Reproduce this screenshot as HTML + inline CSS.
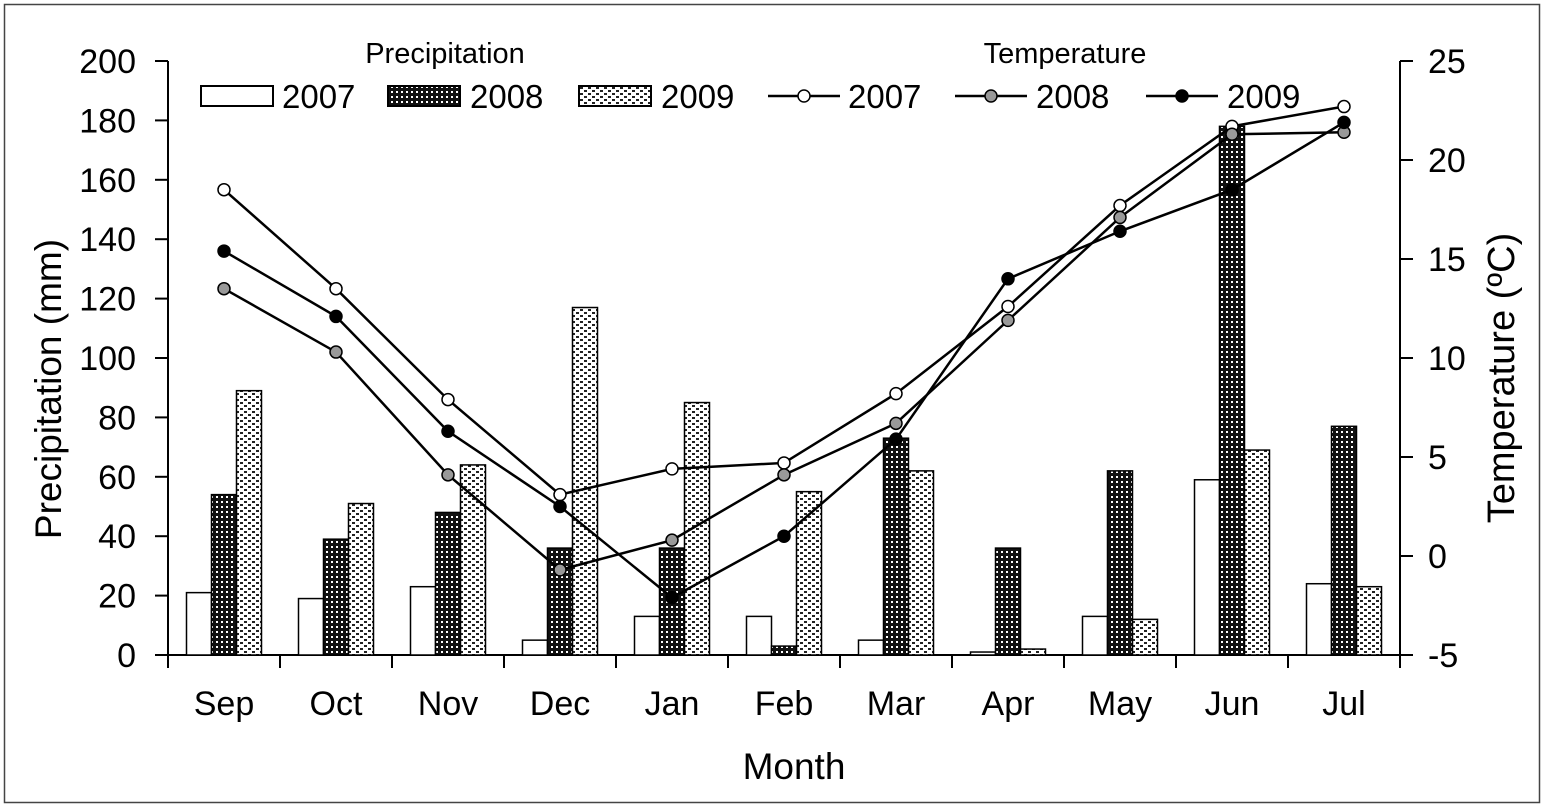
<!DOCTYPE html>
<html><head><meta charset="utf-8"><style>
body{margin:0;background:#fff}
svg{display:block;font-family:"Liberation Sans",Arial,sans-serif}
</style></head><body>
<svg id="chart" width="1544" height="807" viewBox="0 0 1544 807">
<defs>
<pattern id="p2008" width="5" height="5" patternUnits="userSpaceOnUse"><rect width="5" height="5" fill="#111"/><rect x="1" y="1" width="2" height="2" fill="#fff"/></pattern>
<pattern id="p2009" width="8" height="6" patternUnits="userSpaceOnUse"><rect width="8" height="6" fill="#fff"/><rect x="0" y="0" width="3" height="2" fill="#222"/><rect x="4" y="3" width="3" height="2" fill="#222"/></pattern>
</defs>
<rect x="4.5" y="4.5" width="1535" height="798" fill="none" stroke="#444" stroke-width="1.5"/>
<g id="axes"></g>
<g id="bars"></g>
<g id="lines"></g>
<g id="legend" font-size="33">
<text x="445" y="63" font-size="29" text-anchor="middle">Precipitation</text>
<text x="1065" y="63" font-size="29" text-anchor="middle">Temperature</text>
<rect x="201" y="86" width="72" height="20" fill="#fff" stroke="#000" stroke-width="2"/>
<text x="282" y="108">2007</text>
<rect x="388" y="86" width="72" height="20" fill="url(#p2008)" stroke="#000" stroke-width="2"/>
<text x="470" y="108">2008</text>
<rect x="579" y="86" width="72" height="20" fill="url(#p2009)" stroke="#000" stroke-width="2"/>
<text x="661" y="108">2009</text>
<line x1="768" y1="96" x2="840" y2="96" stroke="#000" stroke-width="2.5"/><circle cx="804" cy="96" r="6" fill="#fff" stroke="#000" stroke-width="1.5"/>
<text x="848" y="108">2007</text>
<line x1="955" y1="96" x2="1027" y2="96" stroke="#000" stroke-width="2.5"/><circle cx="991" cy="96" r="6" fill="#999" stroke="#000" stroke-width="1.5"/>
<text x="1036" y="108">2008</text>
<line x1="1146" y1="96" x2="1218" y2="96" stroke="#000" stroke-width="2.5"/><circle cx="1182" cy="96" r="6" fill="#000" stroke="#000" stroke-width="1.5"/>
<text x="1227" y="108">2009</text>
</g>
<text transform="translate(61,389) rotate(-90)" font-size="37" text-anchor="middle">Precipitation (mm)</text>
<text transform="translate(1514,378) rotate(-90)" font-size="38" text-anchor="middle">Temperature (ºC)</text>
<text x="794" y="779" font-size="37" text-anchor="middle">Month</text>
</svg>
<script>
const months=["Sep","Oct","Nov","Dec","Jan","Feb","Mar","Apr","May","Jun","Jul"];
const precip2007=[21,19,23,5,13,13,5,1,13,59,24];
const precip2008=[54,39,48,36,36,3,73,36,62,178,77];
const precip2009=[89,51,64,117,85,55,62,2,12,69,23];
const temp2007=[18.5,13.5,7.9,3.1,4.4,4.7,8.2,12.6,17.7,21.7,22.7];
const temp2008=[13.5,10.3,4.1,-0.7,0.8,4.1,6.7,11.9,17.1,21.3,21.4];
const temp2009=[15.4,12.1,6.3,2.5,-2.1,1.0,5.9,14.0,16.4,18.5,21.9];
const leftTicks=[0,20,40,60,80,100,120,140,160,180,200];
const rightTicks=[-5,0,5,10,15,20,25];
const NS="http://www.w3.org/2000/svg";
const X0=168,X1=1400,Y0=655,Y1=61;
const bw=(X1-X0)/months.length;
const yL=v=>Y0-(v/200)*(Y0-Y1);
const yR=v=>Y0-((v+5)/30)*(Y0-Y1);
const xC=i=>X0+bw*(i+0.5);
function mk(tag,attrs,parent){const e=document.createElementNS(NS,tag);for(const k in attrs)e.setAttribute(k,attrs[k]);parent.appendChild(e);return e;}
const axes=document.getElementById('axes');
let e=mk('path',{d:`M${X0},${Y1}V${Y0}H${X1}V${Y1}`,fill:'none',stroke:'#000','stroke-width':2},axes);


leftTicks.forEach(t=>{const y=yL(t);
mk('line',{x1:X0-13,x2:X0,y1:y,y2:y,stroke:'#000','stroke-width':2},axes);
const tx=mk('text',{x:X0-32,y:y+12,'font-size':34,'text-anchor':'end'},axes);tx.textContent=t;

});
rightTicks.forEach(t=>{const y=yR(t);
mk('line',{x1:X1,x2:X1+13,y1:y,y2:y,stroke:'#000','stroke-width':2},axes);
const tx=mk('text',{x:X1+28,y:y+12,'font-size':34},axes);tx.textContent=t;

});
for(let i=0;i<=months.length;i++){const x=X0+bw*i;mk('line',{x1:x,x2:x,y1:Y0,y2:Y0+13,stroke:'#000','stroke-width':2},axes);}
months.forEach((m,i)=>{const tx=mk('text',{x:xC(i),y:715,'font-size':34,'text-anchor':'middle'},axes);tx.textContent=m;

});
const bars=document.getElementById('bars');
const series=[[precip2007,'#fff','p2007'],[precip2008,'url(#p2008)','p2008'],[precip2009,'url(#p2009)','p2009']];
const w=25;
series.forEach(([vals,fill,nm],s)=>{vals.forEach((v,i)=>{
const x=xC(i)-37.5+s*w;
const r=mk('rect',{x:x,y:yL(v),width:w,height:Y0-yL(v),fill:fill,stroke:'#000','stroke-width':1.5},bars);

});});
const lines=document.getElementById('lines');
const ts=[[temp2007,'#fff','t2007'],[temp2008,'#999','t2008'],[temp2009,'#000','t2009']];
ts.forEach(([vals,fill,nm])=>{
const p=mk('polyline',{points:vals.map((v,i)=>xC(i)+','+yR(v)).join(' '),fill:'none',stroke:'#000','stroke-width':2.5},lines);


vals.forEach((v,i)=>{const c=mk('circle',{cx:xC(i),cy:yR(v),r:6,fill:fill,stroke:'#000','stroke-width':1.5},lines);

});});
</script>
</body></html>
